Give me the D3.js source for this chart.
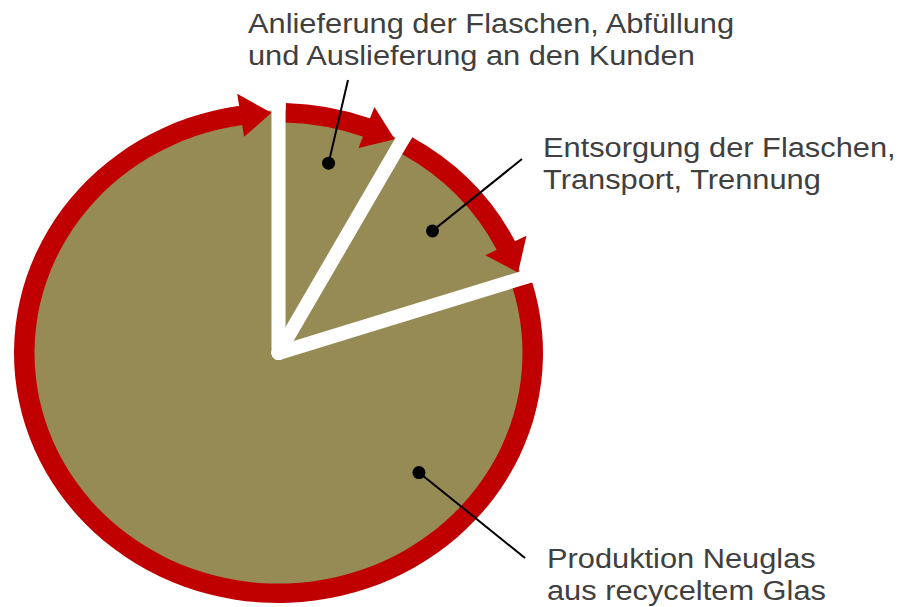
<!DOCTYPE html>
<html>
<head>
<meta charset="utf-8">
<script src="https://cdn.jsdelivr.net/npm/d3@7"></script>
<style>
  body { margin: 0; background: #fff; }
  text { font-family: "Liberation Sans", Arial, sans-serif; }
</style>
</head>
<body>
<svg id="drawing_region"></svg>
<script>
// data
const categories = [
    ["Anlieferung der Flaschen, Abfüllung", "und Auslieferung an den Kunden"],
    ["Entsorgung der Flaschen,", "Transport, Trennung"],
    ["Produktion Neuglas", "aus recyceltem Glas"]
];
const values = [8, 12, 80];

// layout of the callouts (dot angle in degrees, dot radius, label position)
const dotAngles = [14, 50, 132];
const dotRadii = [207, 201, 189];
const labelPos = [
    { x: 248, y: 33, lx: 348, ly: 80 },
    { x: 543, y: 157, lx: 522, ly: 159 },
    { x: 547, y: 568, lx: 525, ly: 558 }
];

const config = {
    width: 900,
    height: 607,
    cx: 278.5,
    cy: 353,
    r_outer: 264.5,
    r_inner: 244,
    ky: 250 / 264.5,
    gap: 14,
    head_half: 23,
    head_len: 31,
    text_sx: 1.1
};

const svg = d3.select("#drawing_region")
    .attr("width", config.width)
    .attr("height", config.height);

const pie = d3.pie().sort(null).value(d => d);
const arcs = pie(values);

const g = svg.append("g")
    .attr("transform", `translate(${config.cx},${config.cy}) scale(1,${config.ky})`);

// slices
const fill_arc = d3.arc().innerRadius(0).outerRadius(config.r_outer - 8);
g.selectAll("path.slice")
    .data(arcs)
    .enter()
    .append("path")
    .attr("class", "slice")
    .attr("d", fill_arc)
    .attr("fill", "#978b55");

// red ring with arrow heads
const r_mid = (config.r_outer + config.r_inner) / 2;
const half_gap = (config.gap / 2) / r_mid;
const head_ang = config.head_len / r_mid;
const ring_arc = d3.arc().innerRadius(config.r_inner).outerRadius(config.r_outer);
const polar = (a, r) => [r * Math.sin(a), -r * Math.cos(a)];

arcs.forEach(d => {
    const a0 = d.startAngle + half_gap;
    const tip = d.endAngle - half_gap;
    const back = tip - head_ang;

    g.append("path")
        .attr("d", ring_arc({ startAngle: a0, endAngle: back + 0.002 }))
        .attr("fill", "#c00000");

    const pts = [
        polar(back, r_mid - config.head_half),
        polar(back, r_mid + config.head_half),
        polar(tip, r_mid)
    ];
    g.append("path")
        .attr("d", d3.line()(pts) + "Z")
        .attr("fill", "#c00000");
});

// white separators
arcs.forEach(d => {
    const p = polar(d.startAngle, config.r_outer + 40);
    g.append("line")
        .attr("x1", 0).attr("y1", 0)
        .attr("x2", p[0]).attr("y2", p[1])
        .attr("stroke", "#fff")
        .attr("stroke-width", config.gap)
        .attr("stroke-linecap", "round")
        .attr("vector-effect", "non-scaling-stroke");
});

// callouts
arcs.forEach((d, i) => {
    const a = dotAngles[i] * Math.PI / 180;
    const p = polar(a, dotRadii[i]);
    const x = config.cx + p[0];
    const y = config.cy + p[1] * config.ky;
    const lp = labelPos[i];

    svg.append("line")
        .attr("x1", x).attr("y1", y)
        .attr("x2", lp.lx).attr("y2", lp.ly)
        .attr("stroke", "#000")
        .attr("stroke-width", 2);

    svg.append("circle")
        .attr("cx", x).attr("cy", y)
        .attr("r", 6.5)
        .attr("fill", "#000");

    const t = svg.append("text")
        .attr("transform", `translate(${lp.x},${lp.y}) scale(${config.text_sx},1)`)
        .attr("font-size", 28)
        .attr("fill", "#404040");
    categories[i].forEach((line, j) => {
        t.append("tspan")
            .attr("x", 0)
            .attr("y", j * 32)
            .text(line);
    });
});
</script>
</body>
</html>
